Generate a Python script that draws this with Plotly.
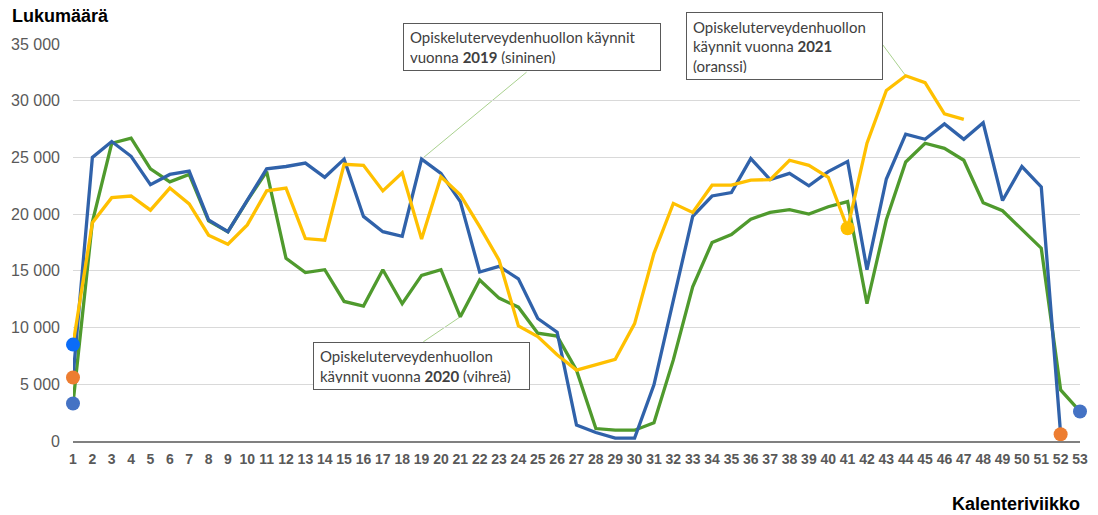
import plotly.graph_objects as go

# Viikot 1-53
weeks = list(range(1, 54))

# Käynnit vuonna 2019 (sininen)
y2019 = [5600, 25000, 26400, 25100, 22600, 23500, 23800, 19500, 18450, 21250,
         24000, 24200, 24500, 23250, 24850, 19800, 18450, 18050, 24850, 23600,
         21100, 14900, 15400, 14300, 10800, 9600, 1400, 750, 250, 250,
         4950, 12400, 19800, 21600, 21900, 24900, 23050, 23600, 22500, 23750,
         24650, 15100, 23100, 27050, 26600, 27950, 26600, 28050, 21200, 24200,
         22400, 600, None]

# Käynnit vuonna 2020 (vihreä)
y2020 = [3300, 19300, 26250, 26700, 24000, 22850, 23500, 19400, 18450, 21200,
         23750, 16100, 14850, 15100, 12300, 11900, 15100, 12100, 14600, 15100,
         10950, 14200, 12600, 11800, 9500, 9250, 6250, 1100, 950, 950,
         1600, 7150, 13600, 17500, 18200, 19550, 20150, 20400, 20000, 20650,
         21100, 12100, 19500, 24600, 26250, 25800, 24750, 21000, 20300, 18650,
         17000, 4500, 2600]

# Käynnit vuonna 2021 (oranssi)
y2021 = [8500, 19250, 21450, 21600, 20350, 22300, 20900, 18150, 17350, 19050,
         22050, 22300, 17850, 17700, 24400, 24300, 22050, 23650, 17800, 23300,
         21700, 18900, 15950, 10150, 9200, 7600, 6250, 6700, 7200, 10350,
         16550, 20950, 20150, 22550, 22550, 23000, 23050, 24750, 24300, 23250,
         18750, 26250, 30900, 32200, 31600, 28850, 28350] + [None] * 6

series = {"2019": y2019, "2020": y2020, "2021": y2021}

# Korostetut pisteet: (sarja, viikko, väri)
dots = [("2021", 1, "#0B6CF7"), ("2019", 1, "#ED7D31"), ("2020", 1, "#4472C4"),
        ("2021", 41, "#FFC000"), ("2019", 52, "#ED7D31"), ("2020", 53, "#4472C4")]

line_colors = {"2019": "#3062AA", "2020": "#4F9A2D", "2021": "#FFC000"}

fig = go.Figure()
for name in ["2020", "2019", "2021"]:
    fig.add_trace(go.Scatter(x=weeks, y=series[name], mode="lines", name=name,
                             line=dict(color=line_colors[name], width=3.3),
                             cliponaxis=False))

fig.add_trace(go.Scatter(x=[d[1] for d in dots],
                         y=[series[d[0]][d[1] - 1] for d in dots],
                         mode="markers", cliponaxis=False,
                         marker=dict(size=14, color=[d[2] for d in dots])))

box_font = dict(family="Lato, Open Sans, sans-serif", size=15, color="#404040")
boxes = [
    ("Opiskeluterveydenhuollon käynnit<br>vuonna <b>2019</b> (sininen)", 0.3277, 1.053, 244, 34),
    ("Opiskeluterveydenhuollon<br>käynnit vuonna <b>2021</b><br>(oranssi)", 0.6087, 1.0806, 183, 54),
    ("Opiskeluterveydenhuollon<br>käynnit vuonna <b>2020</b> (vihreä)", 0.2383, 0.2494, 203, 34),
]
for text, bx, by, w, h in boxes:
    fig.add_annotation(text=text, xref="paper", yref="paper", x=bx, y=by,
                       xanchor="left", yanchor="top", showarrow=False,
                       width=w, height=h, align="left", valign="middle",
                       borderpad=6, bordercolor="#595959", borderwidth=1,
                       bgcolor="white", font=box_font)

# Ohjausviivat laatikoista pisteisiin
leaders = [("2019", 19, 105, 87), ("2021", 44, -23, 31), ("2020", 21, -37, -25)]
for name, wk, dx, dy in leaders:
    fig.add_shape(type="line", xref="x", yref="y", xsizemode="pixel", ysizemode="pixel",
                  xanchor=wk, yanchor=series[name][wk - 1], x0=0, y0=0, x1=dx, y1=dy,
                  line=dict(color="#A9D18E", width=1), layer="below")

fig.add_annotation(text="<b>Lukumäärä</b>", xref="paper", yref="paper", x=-0.063, y=1.0705,
                   xanchor="left", yanchor="middle", showarrow=False,
                   font=dict(family="Arial", size=18, color="#000000"))
fig.add_annotation(text="<b>Kalenteriviikko</b>", xref="paper", yref="paper", x=1.002, y=-0.159,
                   xanchor="right", yanchor="middle", showarrow=False,
                   font=dict(family="Arial", size=18, color="#000000"))

# sivun body-marginaali (8 px) huomioitu
fig.update_layout(
    width=1090, height=507,
    margin=dict(l=65, r=18, t=36, b=74),
    plot_bgcolor="white", paper_bgcolor="white",
    showlegend=False, separators=", ",
    xaxis=dict(range=[1, 53], tickvals=weeks, showgrid=False, zeroline=False,
               showline=True, linecolor="#808080", linewidth=2, automargin=False,
               tickfont=dict(family="Arial", size=14, color="#595959", weight="bold"),
               ticklabelstandoff=4),
    yaxis=dict(range=[0, 35000], dtick=5000, tickformat=",d", showgrid=True,
               gridcolor="#D9D9D9", gridwidth=1, zeroline=False, automargin=False,
               tickfont=dict(family="Arial", size=16, color="#595959"),
               ticklabelstandoff=12),
)

fig.write_html("out.html")
